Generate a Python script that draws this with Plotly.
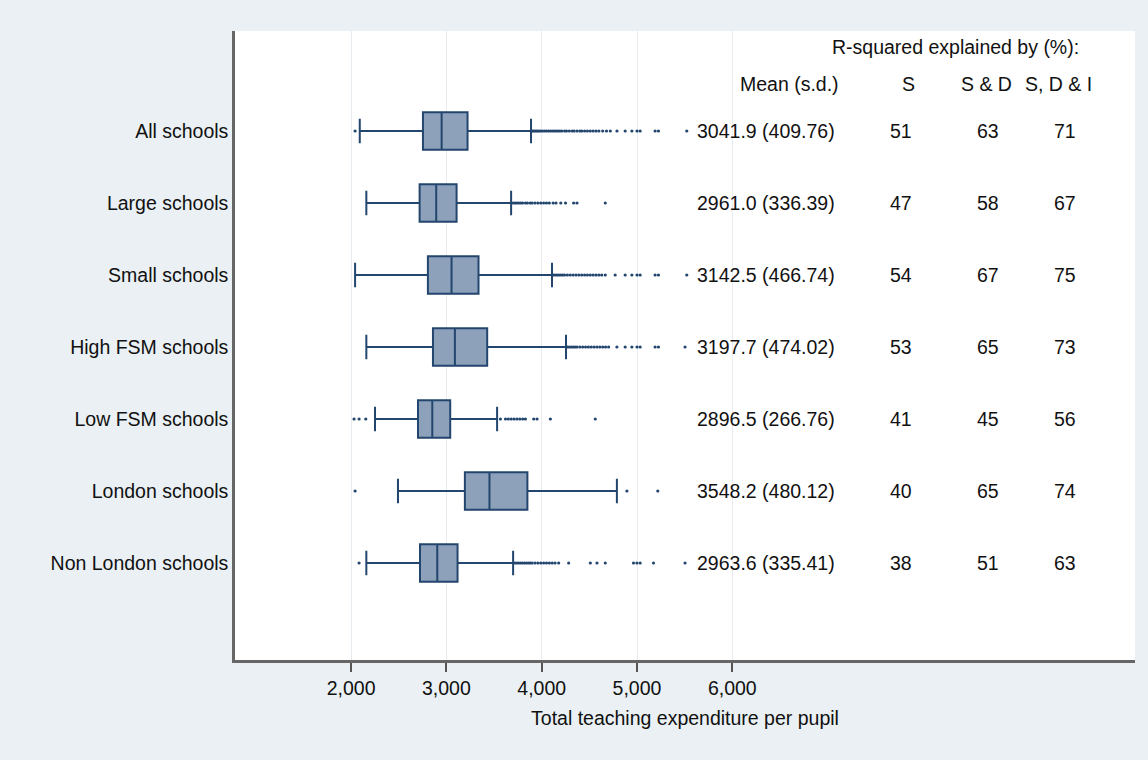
import plotly.graph_objects as go

# Groups of schools, top to bottom
groups = ["All schools", "Large schools", "Small schools", "High FSM schools",
          "Low FSM schools", "London schools", "Non London schools"]

# Box-plot summaries of total teaching expenditure per pupil
lower_whisker = [2091, 2160, 2042, 2160, 2251, 2492, 2160]
q1 = [2754, 2719, 2806, 2859, 2702, 3194, 2723]
median = [2950, 2893, 3054, 3089, 2852, 3452, 2904]
q3 = [3222, 3107, 3337, 3428, 3040, 3850, 3117]
upper_whisker = [3888, 3679, 4108, 4255, 3532, 4789, 3700]

# Outside values for each group
outliers = [
    [2042, 3900, 3915, 3930, 3945, 3960, 3975, 3990, 4010, 4030, 4050, 4070, 4090,
     4110, 4130, 4150, 4170, 4190, 4210, 4240, 4260, 4290, 4320, 4340, 4370, 4400,
     4420, 4450, 4480, 4510, 4540, 4570, 4600, 4640, 4680, 4720, 4790, 4876, 4946,
     5000, 5033, 5190, 5225, 5522],
    [3700, 3720, 3740, 3760, 3780, 3800, 3830, 3850, 3880, 3900, 3930, 3960, 3990,
     4020, 4050, 4080, 4120, 4150, 4200, 4250, 4335, 4370, 4667],
    [4120, 4140, 4160, 4180, 4200, 4220, 4240, 4270, 4300, 4330, 4360, 4390, 4420,
     4450, 4480, 4510, 4540, 4570, 4600, 4630, 4667, 4771, 4876, 4946, 5000, 5033,
     5190, 5225, 5522],
    [4270, 4290, 4310, 4330, 4350, 4370, 4400, 4430, 4460, 4490, 4520, 4550, 4580,
     4610, 4640, 4670, 4702, 4789, 4876, 4946, 5000, 5033, 5190, 5225, 5504],
    [2031, 2084, 2154, 3567, 3620, 3650, 3680, 3710, 3740, 3770, 3800, 3829, 3916,
     3951, 4091, 4562],
    [2042, 4894, 5218],
    [2084, 3720, 3740, 3760, 3780, 3800, 3820, 3840, 3860, 3880, 3900, 3930, 3960,
     3990, 4020, 4050, 4080, 4110, 4140, 4178, 4283, 4510, 4580, 4667, 4963, 4999,
     5033, 5173, 5504],
]

# Summary table
mean_sd = ["3041.9 (409.76)", "2961.0 (336.39)", "3142.5 (466.74)", "3197.7 (474.02)",
           "2896.5 (266.76)", "3548.2 (480.12)", "2963.6 (335.41)"]
r2_s = [51, 47, 54, 53, 41, 40, 38]
r2_sd = [63, 58, 67, 65, 45, 65, 51]
r2_sdi = [71, 67, 75, 73, 56, 74, 63]

x_ticks = [2000, 3000, 4000, 5000, 6000]
x_ticktext = ["2,000", "3,000", "4,000", "5,000", "6,000"]

FONT = "Liberation Sans Narrow, Arial Narrow, Liberation Sans, Arial, sans-serif"
LINE = "#23466E"
FILL = "#8DA1BA"
BG = "#EAF0F3"
FS = 19.5

pos = list(range(len(groups)))

fig = go.Figure()

fig.add_trace(go.Box(
    orientation="h",
    y=pos,
    q1=q1, median=median, q3=q3,
    lowerfence=lower_whisker, upperfence=upper_whisker,
    width=0.52,
    whiskerwidth=0.65,
    fillcolor=FILL,
    line=dict(color=LINE, width=2),
    boxpoints=False,
    hoverinfo="skip",
    showlegend=False,
))

ox, oy = [], []
for i, vals in enumerate(outliers):
    ox.extend(vals)
    oy.extend([i] * len(vals))
fig.add_trace(go.Scatter(
    x=ox, y=oy, mode="markers",
    marker=dict(size=3.2, color=LINE),
    hoverinfo="skip", showlegend=False,
))

def px_to_paper(px):
    return (px - 235) / 900.0

annotations = []
for i in pos:
    annotations.append(dict(x=px_to_paper(837), y=i, xref="paper", yref="y",
                            text=mean_sd[i], xanchor="right", yanchor="middle",
                            showarrow=False))
    for col_px, vals in ((901, r2_s), (988, r2_sd), (1065, r2_sdi)):
        annotations.append(dict(x=px_to_paper(col_px), y=i, xref="paper", yref="y",
                                text=str(vals[i]), xanchor="center", yanchor="middle",
                                showarrow=False))

# Column headers
annotations += [
    dict(x=px_to_paper(1081), y=-1.16, xref="paper", yref="y",
         text="R-squared explained by (%):", xanchor="right", yanchor="middle",
         showarrow=False),
    dict(x=px_to_paper(841), y=-0.65, xref="paper", yref="y",
         text="Mean (s.d.)", xanchor="right", yanchor="middle", showarrow=False),
    dict(x=px_to_paper(908), y=-0.65, xref="paper", yref="y",
         text="S", xanchor="center", yanchor="middle", showarrow=False),
    dict(x=px_to_paper(986), y=-0.65, xref="paper", yref="y",
         text="S &amp; D", xanchor="center", yanchor="middle", showarrow=False),
    dict(x=px_to_paper(1058), y=-0.65, xref="paper", yref="y",
         text="S, D &amp; I", xanchor="center", yanchor="middle", showarrow=False),
]

fig.update_layout(
    width=1148, height=760,
    margin=dict(l=235, r=13, t=31, b=100),
    paper_bgcolor=BG,
    plot_bgcolor="white",
    font=dict(family=FONT, size=FS, color="#111111"),
    annotations=annotations,
    showlegend=False,
)

fig.update_xaxes(
    range=[782, 10225],
    tickvals=x_ticks, ticktext=x_ticktext,
    ticks="outside", ticklen=9, tickwidth=1.5, tickcolor="#555555",
    showgrid=True, gridcolor="#E6ECEF", gridwidth=1,
    showline=True, linecolor="#666666", linewidth=2.5,
    zeroline=False,
    tickfont=dict(size=FS),
    title=dict(text="Total teaching expenditure per pupil", font=dict(size=FS), standoff=14),
)

fig.update_yaxes(
    range=[7.347, -1.389],
    tickvals=pos, ticktext=groups,
    ticks="outside", ticklen=0, tickcolor="rgba(0,0,0,0)",
    showgrid=False, zeroline=False,
    showline=True, linecolor="#666666", linewidth=2.5,
    tickfont=dict(size=FS),
)

fig.write_html("out.html")
